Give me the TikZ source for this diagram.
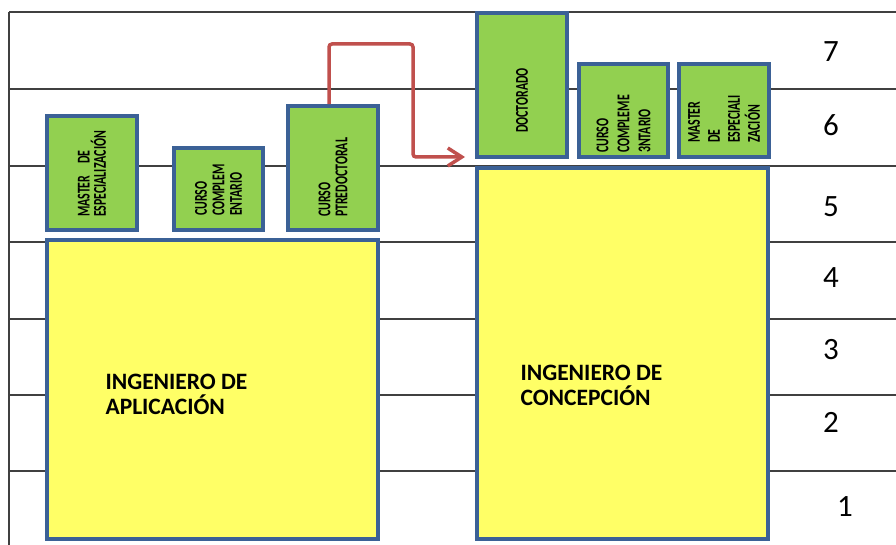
\documentclass[tikz,border=0pt]{standalone}
\usepackage{fontspec}
\setmainfont{Carlito}
\newfontfamily\narrowfont[FakeStretch=0.66]{Carlito}
\usetikzlibrary{arrows.meta, positioning, calc}
\definecolor{inkgrid}{HTML}{404040}
\definecolor{inkblue}{HTML}{3B6196}
\definecolor{inkgreen}{HTML}{92D050}
\definecolor{inkyellow}{HTML}{FFFF66}
\definecolor{inkred}{HTML}{C0504D}
% green course box, text turned to read upwards
% #1 name, #2 x, #3 y, #4 width, #5 height, #6 pad below the text,
% #7 line skip, #8 text
\newcommand{\gradbox}[8]{%
  \pgfmathsetmacro{\gtw}{#5-2*#6}
  \node[draw=inkblue, line width=3.5pt, fill=inkgreen, rotate=90,
        minimum width=#5pt, minimum height=#4pt, inner xsep=#6pt,
        text width=\gtw pt, align=left, text=black,
        font=\narrowfont\bfseries\fontsize{18}{#7}\selectfont] (#1) at (#2,#3) {#8};}

\begin{document}
\begin{tikzpicture}[x=1pt, y=-1pt]
  \useasboundingbox (0,0) rectangle (896,545);
  % level lines
  \foreach \yy in {12,89,166,242,319,395,471}
    \draw[inkgrid, line width=1.8pt] (9,\yy) -- (896,\yy);
  \draw[inkgrid, line width=1.8pt] (9,12) -- (9,545);
  % levels
  \foreach \n/\yy in {7/52,6/125,5/207,4/278,3/350,2/422}
    \node[font=\fontsize{31}{31}\selectfont] (lv\n) at (831,\yy) {\n};
  \node[font=\fontsize{31}{31}\selectfont] (lv1) at (845,507) {1};

  % the two degrees
  \node[draw=inkblue, line width=3.5pt, fill=inkyellow,
        minimum width=331pt, minimum height=299pt] (apl) at (212.5,389.5) {};
  \node[draw=inkblue, line width=3.5pt, fill=inkyellow,
        minimum width=291pt, minimum height=371pt] (con) at (622.5,353.5) {};
  \node[anchor=west, align=left, font=\bfseries\fontsize{23.5}{25}\selectfont]
    (aplTxt) at (102,394) {INGENIERO DE\\APLICACIÓN};
  \node[anchor=west, align=left, font=\bfseries\fontsize{23.5}{25}\selectfont]
    (conTxt) at (517,385) {INGENIERO DE\\CONCEPCIÓN};

  % courses on top
  \gradbox{masA}{92}{173}{90}{114}{13}{15}{MASTER \ DE\\ESPECIALIZACIÓN}
  \gradbox{curA}{218.5}{189}{89}{82}{14}{17.5}{CURSO\\COMPLEM\\ENTARIO}
  \gradbox{preA}{333}{168}{90}{124}{13}{17}{CURSO\\PTREDOCTORAL}
  \gradbox{doc}{522}{85}{90}{144}{24}{18}{DOCTORADO}
  \gradbox{curB}{623.5}{110.5}{89}{93}{4}{21}{CURSO\\COMPLEME\\3NTARIO}
  \gradbox{masB}{724}{110.5}{90}{93}{14}{20}{MASTER\\DE\\ESPECIALI\\ZACIÓN}

  % step over to the doctorate
  \coordinate (docIn) at (465,157);
  \draw[-{Straight Barb[length=14pt, width=18pt]}, inkred, line width=3.5pt,
        rounded corners=3pt]
    ([xshift=-4pt]preA.east) |- (413,44) -- (413,157) -- (docIn);
\end{tikzpicture}
\end{document}
